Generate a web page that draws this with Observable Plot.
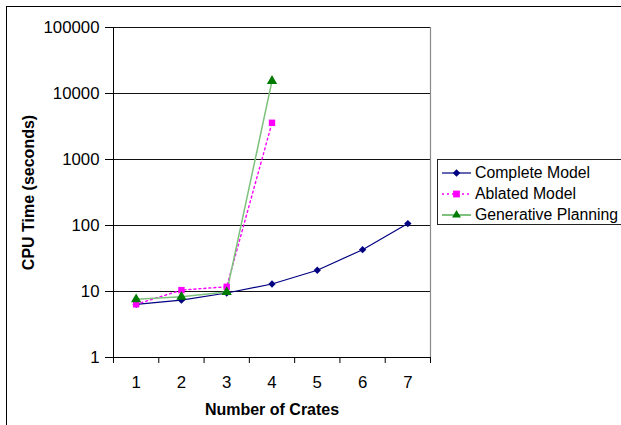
<!DOCTYPE html>
<html>
<head>
<meta charset="utf-8">
<script src="https://cdn.jsdelivr.net/npm/d3@7"></script>
<script src="https://cdn.jsdelivr.net/npm/@observablehq/plot@0.6"></script>
<style>
  html, body { margin: 0; padding: 0; background: #fff; }
  #wrap { position: relative; width: 621px; height: 425px; overflow: hidden; font-family: "Liberation Sans", Arial, sans-serif; }
  #frame { position: absolute; left: 6px; top: 6px; width: 700px; height: 700px; border: 1px solid #000; pointer-events: none; }
  #legend { position: absolute; left: 437px; top: 159px; width: 260px; height: 66px; box-sizing: border-box; border: 1px solid #222; background: #fff; padding-top: 2px; }
  .row { height: 21px; display: flex; align-items: center; font-size: 15.8px; color: #000; white-space: nowrap; }
  .row svg { display: block; margin-left: 4px; margin-right: 4px; }
</style>
</head>
<body>
<div id="wrap"></div>
<script>
// ---- data ----
const crates = [1, 2, 3, 4, 5, 6, 7];
const completeModel = [6.4, 7.4, 9.5, 13, 21, 43, 107];
const ablatedModel = [6.4, 10.5, 11.8, 3600];
const generativePlanning = [7.6, 8.3, 9.8, 15500];
const yTicks = [1, 10, 100, 1000, 10000, 100000];
const seriesNames = ["Complete Model", "Ablated Model", "Generative Planning"];
const xLabel = "Number of Crates";
const yLabel = "CPU Time (seconds)";

const toRows = (vals) => vals.map((v, i) => ({x: crates[i], y: v}));
const complete = toRows(completeModel);
const ablated = toRows(ablatedModel);
const generative = toRows(generativePlanning);
const bandEdges = [0.5, ...crates.map(c => c + 0.5)];

const colors = {complete: "#000080", ablated: "#ff00ff", genLine: "#7cc17c", genDot: "#007a00"};

const chart = Plot.plot({
  width: 621,
  height: 425,
  marginLeft: 113,
  marginRight: 191,
  marginTop: 27,
  marginBottom: 68,
  style: {fontFamily: "Liberation Sans, Arial, sans-serif", color: "#000", background: "#fff"},
  x: {type: "linear", domain: [0.5, 7.5]},
  y: {type: "log", domain: [1, 100000]},
  marks: [
    Plot.gridY(yTicks.slice(1), {stroke: "#111", strokeOpacity: 1, strokeWidth: 1}),
    Plot.ruleX([7.5], {stroke: "#8a8a8a", strokeWidth: 1.2}),
    Plot.ruleY([1], {stroke: "#000"}),
    Plot.ruleX([0.5], {stroke: "#000"}),
    Plot.axisY(yTicks, {tickSize: 8, tickPadding: 6, fontSize: 16.8, tickFormat: d3.format("d"), label: null}),
    Plot.axisX(bandEdges, {tickSize: 6, tickFormat: () => "", label: null}),
    Plot.axisX(crates, {tickSize: 0, tickPadding: 19, fontSize: 16.8, tickFormat: d => String(d), label: null}),
    Plot.text([xLabel], {frameAnchor: "bottom", dy: 57, fontSize: 16, fontWeight: "bold", text: d => d}),
    Plot.text([yLabel], {frameAnchor: "left", textAnchor: "middle", dx: -85, rotate: -90, fontSize: 16, fontWeight: "bold", text: d => d}),
    Plot.line(complete, {x: "x", y: "y", stroke: colors.complete, strokeWidth: 1.2}),
    Plot.line(ablated, {x: "x", y: "y", stroke: colors.ablated, strokeWidth: 1.4, strokeDasharray: "2,3"}),
    Plot.line(generative, {x: "x", y: "y", stroke: colors.genLine, strokeWidth: 1.5}),
    Plot.dot(complete, {x: "x", y: "y", symbol: "diamond2", r: 3.3, fill: colors.complete}),
    Plot.dot(ablated, {x: "x", y: "y", symbol: "square", r: 3.6, fill: colors.ablated}),
    Plot.dot(generative, {x: "x", y: "y", symbol: "triangle", r: 3.8, fill: colors.genDot})
  ]
});

const wrap = document.getElementById("wrap");
wrap.appendChild(chart);

// legend
const legend = document.createElement("div");
legend.id = "legend";
const legendSpecs = [
  {name: seriesNames[0], line: colors.complete, dash: null, sym: d3.symbolDiamond2, size: 36, fill: colors.complete, w: 1.2},
  {name: seriesNames[1], line: colors.ablated, dash: "2,3", sym: d3.symbolSquare, size: 46, fill: colors.ablated, w: 1.4},
  {name: seriesNames[2], line: colors.genLine, dash: null, sym: d3.symbolTriangle, size: 34, fill: colors.genDot, w: 2}
];
for (const s of legendSpecs) {
  const row = document.createElement("div");
  row.className = "row";
  const svg = d3.create("svg").attr("width", 29).attr("height", 14);
  svg.append("line").attr("x1", 0).attr("x2", 29).attr("y1", 7).attr("y2", 7)
    .attr("stroke", s.line).attr("stroke-width", s.w).attr("stroke-dasharray", s.dash);
  svg.append("path").attr("d", d3.symbol(s.sym, s.size)()).attr("transform", "translate(14.5,7)").attr("fill", s.fill);
  row.appendChild(svg.node());
  const t = document.createElement("span");
  t.textContent = s.name;
  row.appendChild(t);
  legend.appendChild(row);
}
wrap.appendChild(legend);

const frame = document.createElement("div");
frame.id = "frame";
wrap.appendChild(frame);
</script>
</body>
</html>
